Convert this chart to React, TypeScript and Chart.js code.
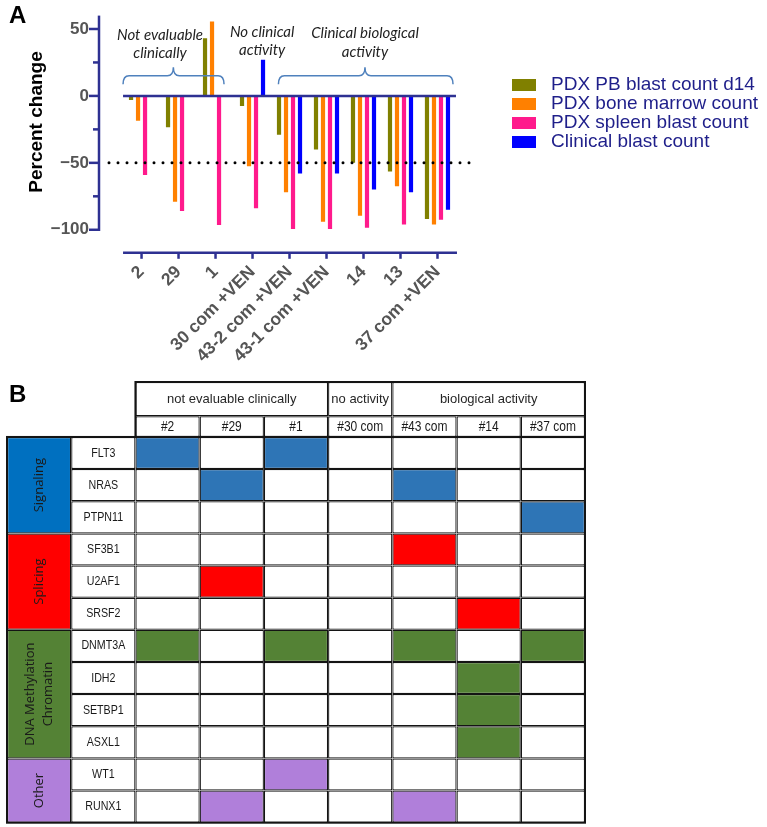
import React, { useEffect, useRef } from 'react';
import { Chart, registerables } from 'chart.js';

Chart.register(...registerables);

// ---------------- Panel A data ----------------
const patientLabels = ['2', '29', '1', '30 com +VEN', '43-2 com +VEN', '43-1 com +VEN', '14', '13', '37 com +VEN'];
const seriesLabels = ['PDX PB blast count d14', 'PDX bone marrow count', 'PDX spleen blast count', 'Clinical blast count'];
const pdxPbBlastD14 = [-3, -23.5, 43, -7.5, -29, -40, -50, -56.5, -92];
const pdxBoneMarrow = [-18.5, -79, 55.5, -52.5, -72, -94, -89.5, -67.5, -96];
const pdxSpleenBlast = [-59, -86, -96.5, -84, -99.5, -99.5, -98.5, -96, -92.5];
const clinicalBlast = [null, null, null, 27, -58, -58, -70, -72, -85];
const seriesColors = ['#808000', '#FF8000', '#FF1A8C', '#0000FF'];
const yTickValues = [-100, -75, -50, -25, 0, 25, 50];
const yLabelValues = [-100, -50, 0, 50];
const thresholdValue = -50;
const groupNoteLines = [['Not evaluable', 'clinically'], ['No clinical', 'activity'], ['Clinical biological', 'activity']];

// ---------------- Panel B data ----------------
const groupHeaders = ['not evaluable clinically', 'no activity', 'biological activity'];
const groupSpans = [3, 1, 3];
const sampleIds = ['#2', '#29', '#1', '#30 com', '#43 com', '#14', '#37 com'];
const pathways = [['Signaling'], ['Splicing'], ['DNA Methylation', 'Chromatin'], ['Other']];
const pathwaySizes = [3, 3, 4, 2];
const pathwayColors = ['#0070C0', '#FF0000', '#548235', '#B07FDA'];
const mutationColors = ['#2E75B6', '#FF0000', '#548235', '#B07FDA'];
const genes = ['FLT3', 'NRAS', 'PTPN11', 'SF3B1', 'U2AF1', 'SRSF2', 'DNMT3A', 'IDH2', 'SETBP1', 'ASXL1', 'WT1', 'RUNX1'];
const mutations = [
  [1, 0, 1, 0, 0, 0, 0],
  [0, 1, 0, 0, 1, 0, 0],
  [0, 0, 0, 0, 0, 0, 1],
  [0, 0, 0, 0, 1, 0, 0],
  [0, 1, 0, 0, 0, 0, 0],
  [0, 0, 0, 0, 0, 1, 0],
  [1, 0, 1, 0, 1, 0, 1],
  [0, 0, 0, 0, 0, 1, 0],
  [0, 0, 0, 0, 0, 1, 0],
  [0, 0, 0, 0, 0, 1, 0],
  [0, 0, 1, 0, 0, 0, 0],
  [0, 1, 0, 0, 1, 0, 0],
];

// ---------------- layout constants ----------------
const NAVY = '#2E3192';
const NOTE_POS = [
  { x: 0.5, y: [45.5, 32] },
  { x: 3.26, y: [47.8, 34.3] },
  { x: 6.04, y: [47, 32.8] },
];
const BRACES = [
  { from: -0.5, to: 2.23, tip: 0.86, y: 15 },
  null,
  { from: 3.7, to: 8.42, tip: 6.04, y: 15 },
];
const LEGEND = { x: 512, y: 85, step: 19, box: [24, 12], gap: 15 };
const H1 = 1.065;
const H2 = 0.645;

const SANS = '"Liberation Sans", Arial, sans-serif';

function drawBrace(ctx: CanvasRenderingContext2D, x0: number, x1: number, xm: number, y: number, h: number) {
  const r = 6;
  ctx.beginPath();
  ctx.moveTo(x0, y + h);
  ctx.quadraticCurveTo(x0, y, x0 + r, y);
  ctx.lineTo(xm - r, y);
  ctx.quadraticCurveTo(xm, y, xm, y - h);
  ctx.quadraticCurveTo(xm, y, xm + r, y);
  ctx.lineTo(x1 - r, y);
  ctx.quadraticCurveTo(x1, y, x1, y + h);
  ctx.stroke();
}

const panelAPlugin = {
  id: 'panelADecor',
  afterDatasetsDraw(chart: any) {
    const { ctx, chartArea, scales } = chart;
    const x = scales.x;
    const y = scales.y;
    ctx.save();
    // y axis line and ticks
    ctx.strokeStyle = NAVY;
    ctx.lineWidth = 2.5;
    const ax = chartArea.left;
    ctx.beginPath();
    ctx.moveTo(ax, y.getPixelForValue(y.max));
    ctx.lineTo(ax, y.getPixelForValue(-100) + 1.25);
    ctx.stroke();
    yTickValues.forEach((v) => {
      const py = y.getPixelForValue(v);
      const len = yLabelValues.includes(v) ? 10 : 6;
      ctx.beginPath();
      ctx.moveTo(ax - len, py);
      ctx.lineTo(ax, py);
      ctx.stroke();
    });
    // zero line
    const xl = x.getPixelForValue(-0.5);
    const xr = x.getPixelForValue(patientLabels.length - 0.5);
    const zy = y.getPixelForValue(0);
    ctx.beginPath();
    ctx.moveTo(xl, zy);
    ctx.lineTo(xr, zy);
    ctx.stroke();
    // detached x axis
    const by = chartArea.bottom;
    ctx.beginPath();
    ctx.moveTo(xl, by);
    ctx.lineTo(xr + 1, by);
    ctx.stroke();
    patientLabels.forEach((_, i) => {
      const px = x.getPixelForValue(i);
      ctx.beginPath();
      ctx.moveTo(px, by);
      ctx.lineTo(px, by + 6);
      ctx.stroke();
    });
    // threshold dotted line
    ctx.strokeStyle = '#000';
    ctx.lineWidth = 3;
    ctx.lineCap = 'round';
    ctx.setLineDash([0, 9]);
    const ty = y.getPixelForValue(thresholdValue);
    ctx.beginPath();
    ctx.moveTo(chartArea.left + 10, ty);
    ctx.lineTo(chartArea.right, ty);
    ctx.stroke();
    ctx.setLineDash([]);
    ctx.lineCap = 'butt';
    // braces
    ctx.strokeStyle = '#4F81BD';
    ctx.lineWidth = 1.5;
    BRACES.forEach((b) => {
      if (!b) return;
      drawBrace(ctx, x.getPixelForValue(b.from), x.getPixelForValue(b.to), x.getPixelForValue(b.tip), y.getPixelForValue(b.y), 8.5);
    });
    // group notes
    ctx.fillStyle = '#222';
    ctx.font = 'italic 15px Lato, "Open Sans", sans-serif';
    ctx.textAlign = 'center';
    ctx.textBaseline = 'middle';
    groupNoteLines.forEach((lines, g) => {
      lines.forEach((t, k) => {
        ctx.fillText(t, x.getPixelForValue(NOTE_POS[g].x), y.getPixelForValue(NOTE_POS[g].y[k]));
      });
    });
    // y title
    ctx.save();
    ctx.translate(37, 122);
    ctx.rotate(-Math.PI / 2);
    ctx.font = 'bold 19px ' + SANS;
    ctx.fillStyle = '#000';
    ctx.fillText('Percent change', 0, 0);
    ctx.restore();
    // legend
    ctx.textAlign = 'left';
    ctx.font = '19px ' + SANS;
    chart.data.datasets.forEach((ds: any, k: number) => {
      const cy = LEGEND.y + k * LEGEND.step;
      ctx.fillStyle = ds.backgroundColor;
      ctx.fillRect(LEGEND.x, cy - LEGEND.box[1] / 2, LEGEND.box[0], LEGEND.box[1]);
      ctx.fillStyle = '#1F1F8A';
      ctx.fillText(ds.label, LEGEND.x + LEGEND.box[0] + LEGEND.gap, cy);
    });
    ctx.restore();
  },
};

const tablePlugin = {
  id: 'tableText',
  afterDatasetsDraw(chart: any) {
    const { ctx, scales } = chart;
    const x = scales.x;
    const y = scales.y;
    ctx.save();
    chart.data.datasets.forEach((ds: any, i: number) => {
      const meta = chart.getDatasetMeta(i);
      meta.data.forEach((el: any, j: number) => {
        const pt = ds.data[j];
        if (!pt.text) return;
        const cx = el.x;
        const cy = (el.y + el.base) / 2;
        ctx.fillStyle = ds.textColor || '#1a1a1a';
        ctx.font = ds.textFont;
        ctx.textAlign = 'center';
        ctx.textBaseline = 'middle';
        ctx.save();
        ctx.translate(cx, cy);
        if (ds.rotateText) ctx.rotate(-Math.PI / 2);
        if (ds.textScaleX) ctx.scale(ds.textScaleX, 1);
        const n = pt.text.length;
        pt.text.forEach((t: string, k: number) => {
          ctx.fillText(t, 0, (k - (n - 1) / 2) * 18);
        });
        ctx.restore();
      });
    });
    // outer outlines
    ctx.strokeStyle = '#141414';
    ctx.lineWidth = 2;
    const l = x.getPixelForValue(0);
    const r = x.getPixelForValue(9);
    const s = x.getPixelForValue(2);
    const t0 = y.getPixelForValue(-(H1 + H2));
    const t1 = y.getPixelForValue(0);
    const b = y.getPixelForValue(genes.length);
    ctx.strokeRect(s, t0, r - s, t1 - t0);
    ctx.strokeRect(l, t1, r - l, b - t1);
    ctx.restore();
  },
};

function buildPanelA(canvas: HTMLCanvasElement) {
  const series = [pdxPbBlastD14, pdxBoneMarrow, pdxSpleenBlast, clinicalBlast];
  return new Chart(canvas, {
    type: 'bar',
    data: {
      datasets: series.map((vals, k) => ({
        label: seriesLabels[k],
        data: vals.map((v, i) => ({ x: i, y: v })),
        backgroundColor: seriesColors[k],
        borderWidth: 0,
        categoryPercentage: 0.757,
        barPercentage: 0.6,
      })),
    } as any,
    options: {
      responsive: false,
      animation: false,
      layout: { padding: { top: 15.6, left: 0, right: 294, bottom: 2.2 } },
      plugins: { legend: { display: false }, tooltip: { enabled: false } },
      scales: {
        x: {
          type: 'linear',
          offset: false,
          min: -1.15,
          max: 8.96,
          afterBuildTicks: (s: any) => {
            s.ticks = patientLabels.map((_, i) => ({ value: i }));
          },
          afterFit: (s: any) => {
            s.height = 117;
            s.paddingLeft = 0;
            s.paddingRight = 0;
          },
          grid: { display: false, drawTicks: false, offset: false },
          border: { display: false },
          ticks: {
            autoSkip: false,
            minRotation: 45,
            maxRotation: 45,
            padding: 9,
            color: '#555555',
            font: { family: SANS, weight: 'bold', size: 17.5 },
            callback: (v: any) => patientLabels[v] ?? '',
          },
        },
        y: {
          min: -117.2,
          max: 60,
          afterBuildTicks: (s: any) => {
            s.ticks = yTickValues.map((v) => ({ value: v }));
          },
          afterFit: (s: any) => {
            s.width = 99;
            s.paddingTop = 0;
            s.paddingBottom = 0;
          },
          grid: { display: false, drawTicks: false },
          border: { display: false },
          ticks: {
            padding: 10,
            color: '#555555',
            font: { family: SANS, weight: 'bold', size: 17 },
            callback: (v: any) => (yLabelValues.includes(v) ? String(v).replace('-', '\u2212') : ''),
          },
        },
      },
    } as any,
    plugins: [panelAPlugin],
  });
}

function buildPanelB(canvas: HTMLCanvasElement) {
  const geneGroup: number[] = [];
  pathwaySizes.forEach((n, k) => {
    for (let i = 0; i < n; i++) geneGroup.push(k);
  });
  const datasets: any[] = [];
  // group headers
  groupHeaders.forEach((label, g) => {
    const start = 2 + groupSpans.slice(0, g).reduce((a, b) => a + b, 0);
    datasets.push({
      data: [{ x: start + groupSpans[g] / 2, y: [-(H1 + H2), -H2], text: [label] }],
      barPercentage: groupSpans[g],
      backgroundColor: '#FFFFFF',
      textFont: '13px ' + SANS,
      textColor: '#262626',
    });
  });
  // sample headers
  datasets.push({
    data: sampleIds.map((s, c) => ({ x: 2.5 + c, y: [-H2, 0], text: [s] })),
    backgroundColor: '#FFFFFF',
    textFont: '15px ' + SANS,
    textScaleX: 0.8,
    textColor: '#1a1a1a',
  });
  // pathway band
  let acc = 0;
  datasets.push({
    data: pathways.map((lines, k) => {
      const p = { x: 0.5, y: [acc, acc + pathwaySizes[k]], text: lines };
      acc += pathwaySizes[k];
      return p;
    }),
    backgroundColor: pathwayColors,
    textFont: '13px "Open Sans", "DejaVu Sans", sans-serif',
    textColor: '#1a1a1a',
    rotateText: true,
  });
  // gene names
  datasets.push({
    data: genes.map((g, r) => ({ x: 1.5, y: [r, r + 1], text: [g] })),
    backgroundColor: '#FFFFFF',
    textFont: '13px ' + SANS,
    textScaleX: 0.82,
    textColor: '#1a1a1a',
  });
  // mutation cells
  datasets.push({
    data: genes.flatMap((g, r) => sampleIds.map((s, c) => ({ x: 2.5 + c, y: [r, r + 1] }))),
    backgroundColor: genes.flatMap((g, r) =>
      mutations[r].map((m) => (m ? mutationColors[geneGroup[r]] : '#FFFFFF'))
    ),
  });

  return new Chart(canvas, {
    type: 'bar',
    data: { datasets } as any,
    options: {
      responsive: false,
      animation: false,
      layout: { padding: { top: 7, bottom: 4.3, left: 7, right: 182 } },
      plugins: { legend: { display: false }, tooltip: { enabled: false } },
      datasets: {
        bar: {
          grouped: false,
          categoryPercentage: 1,
          barPercentage: 1,
          borderColor: '#141414',
          borderWidth: 1.25,
          borderSkipped: false,
          inflateAmount: 0,
          clip: false,
        },
      },
      scales: {
        x: {
          type: 'linear',
          display: false,
          offset: false,
          min: 0,
          max: 9,
          grid: { offset: false },
          afterBuildTicks: (s: any) => {
            s.ticks = Array.from({ length: 10 }, (_, i) => ({ value: i }));
          },
        },
        y: {
          type: 'linear',
          display: false,
          reverse: true,
          min: -(H1 + H2),
          max: genes.length,
        },
      },
    } as any,
    plugins: [tablePlugin],
  });
}

export default function App() {
  const refA = useRef<HTMLCanvasElement>(null);
  const refB = useRef<HTMLCanvasElement>(null);
  useEffect(() => {
    const a = buildPanelA(refA.current!);
    const b = buildPanelB(refB.current!);
    return () => {
      a.destroy();
      b.destroy();
    };
  }, []);
  const letter = {
    position: 'absolute' as const,
    left: 9,
    font: 'bold 24px "Liberation Sans", Arial, sans-serif',
    lineHeight: '24px',
    color: '#000',
  };
  return (
    <div style={{ position: 'absolute', left: 0, top: 0, width: 767, height: 827, background: '#fff' }}>
      <canvas ref={refA} width={767} height={372} style={{ position: 'absolute', left: 0, top: 0 }} />
      <canvas ref={refB} width={767} height={452} style={{ position: 'absolute', left: 0, top: 375 }} />
      <div style={{ ...letter, top: 3 }}>A</div>
      <div style={{ ...letter, top: 382 }}>B</div>
    </div>
  );
}
